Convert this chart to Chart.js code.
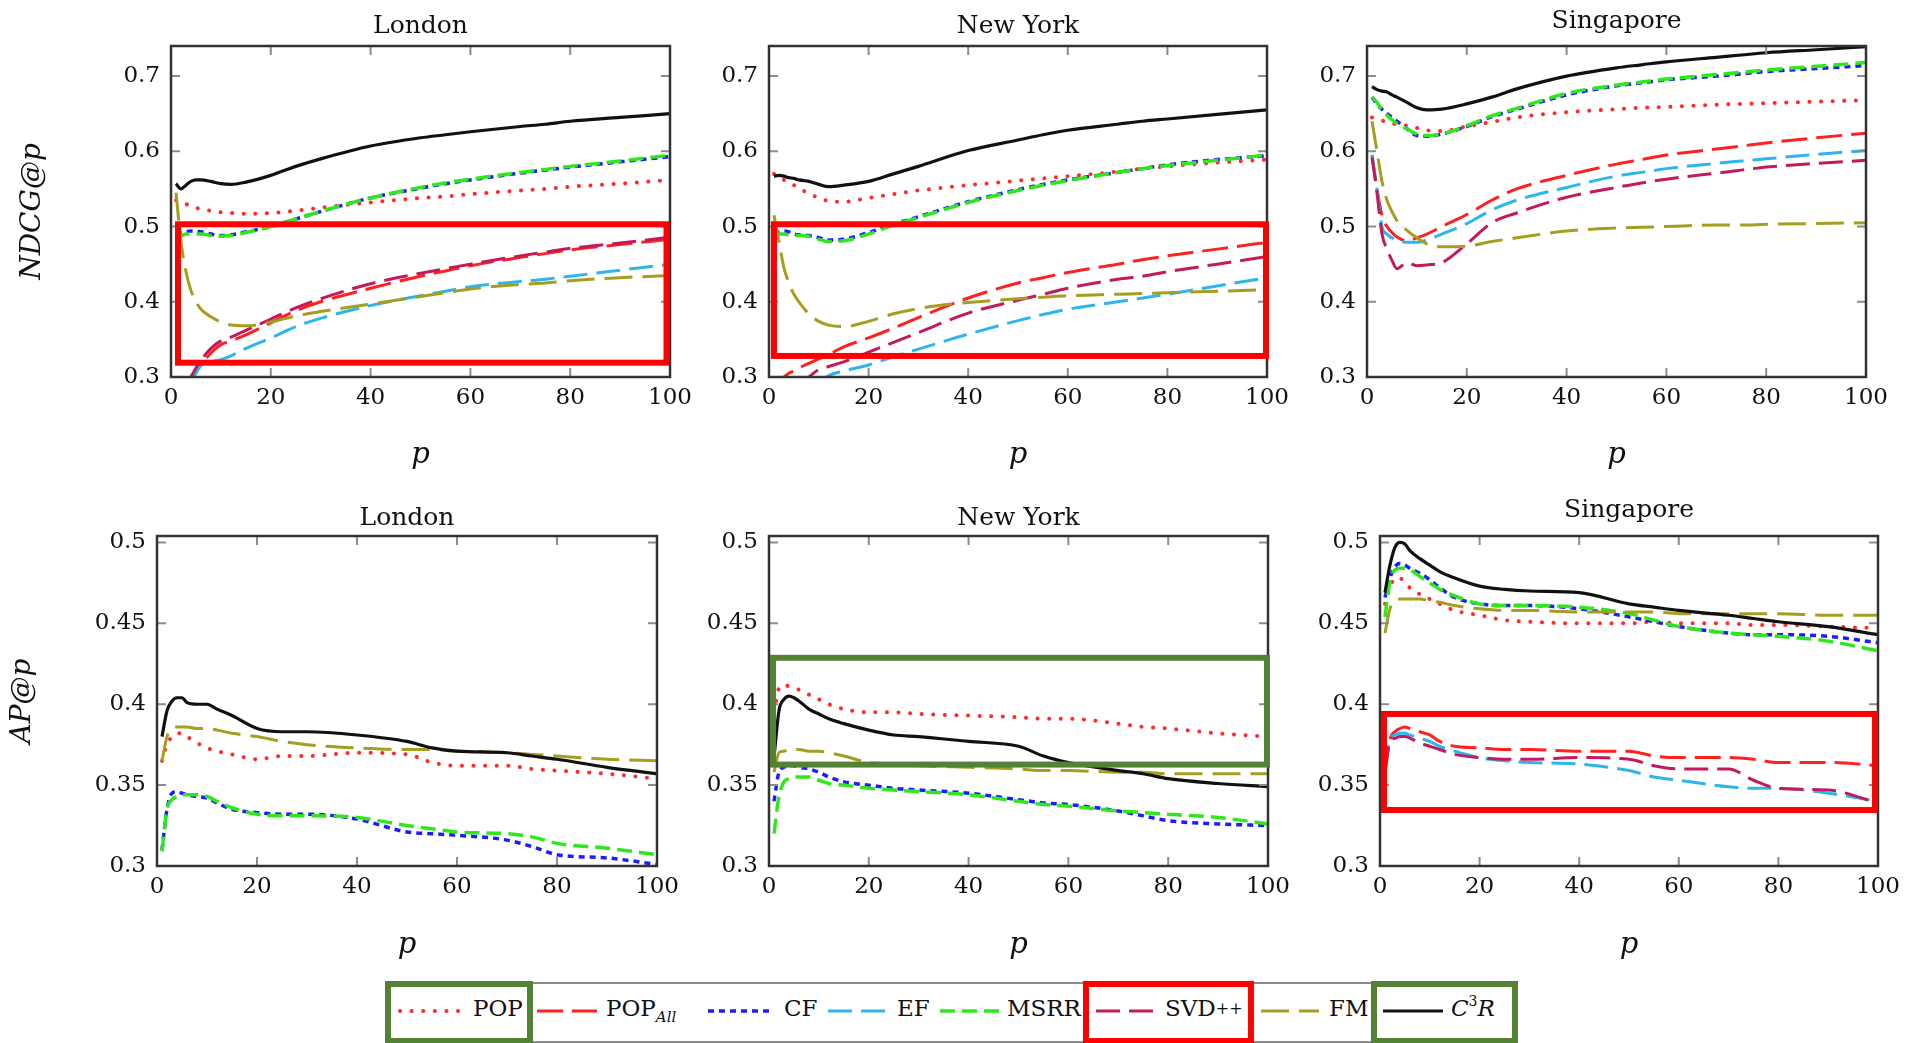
<!DOCTYPE html>
<html>
<head>
<meta charset="utf-8">
<title>NDCG@p and AP@p</title>
<script src="https://cdn.jsdelivr.net/npm/chart.js@4.4.1/dist/chart.umd.min.js"></script>
<style>
html,body{margin:0;padding:0;background:#fff;}
body{width:1914px;height:1043px;position:relative;overflow:hidden;font-family:"DejaVu Serif",serif;color:#111;}
canvas.panel{position:absolute;}
#legend{position:absolute;left:385px;top:982px;width:1133px;height:61px;box-sizing:border-box;border:2px solid #8a8a8a;background:#fff;}
#legend .sample{position:absolute;top:22px;}
#legend .lbl{position:absolute;top:10px;line-height:28px;font-size:23px;white-space:nowrap;color:#111;}
#legend .lbl sub{font-size:15px;font-style:italic;vertical-align:-6px;line-height:0;}
#legend .lbl sup{font-size:14px;vertical-align:10px;line-height:0;}
#legend .lbl .pp{font-size:16px;vertical-align:2px;}
#legend .hl{position:absolute;top:-3px;height:63px;box-sizing:border-box;border:6px solid;}
</style>
</head>
<body>
<canvas id="c0" class="panel" width="700" height="480" style="left:0px;top:0px"></canvas>
<canvas id="c1" class="panel" width="600" height="480" style="left:700px;top:0px"></canvas>
<canvas id="c2" class="panel" width="614" height="480" style="left:1300px;top:0px"></canvas>
<canvas id="c3" class="panel" width="700" height="480" style="left:0px;top:490px"></canvas>
<canvas id="c4" class="panel" width="600" height="480" style="left:700px;top:490px"></canvas>
<canvas id="c5" class="panel" width="614" height="480" style="left:1300px;top:490px"></canvas>
<div id="legend"></div>
<script>
// ---------------- data ----------------
const P = [1,2,3,4,5,6,8,10,12,15,20,25,30,40,50,55,60,70,75,80,90,100];
const X_TICKS = [0,20,40,60,80,100];
const NDCG_TICKS = [0.3,0.4,0.5,0.6,0.7];
const AP_TICKS = [0.3,0.35,0.4,0.45,0.5];
const METHODS = ['POP','POP_All','CF','EF','MSRR','SVD++','FM','C3R'];
const CITIES = ['London','New York','Singapore'];

// NDCG@p — London
const NDCG_LON_POP    = [0.535,0.532,0.53,0.527,0.525,0.523,0.521,0.519,0.518,0.517,0.518,0.521,0.525,0.532,0.538,0.54,0.543,0.548,0.55,0.553,0.557,0.562];
const NDCG_LON_POPALL = [null,null,0.288,0.3,0.308,0.316,0.332,0.343,0.348,0.356,0.372,0.388,0.4,0.418,0.434,0.441,0.448,0.459,0.464,0.469,0.476,0.483];
const NDCG_LON_CF     = [0.49,0.492,0.493,0.494,0.494,0.493,0.49,0.488,0.489,0.493,0.5,0.51,0.52,0.538,0.551,0.557,0.562,0.571,0.575,0.579,0.586,0.593];
const NDCG_LON_EF     = [null,null,null,0.292,0.305,0.315,0.32,0.323,0.328,0.338,0.352,0.367,0.378,0.395,0.408,0.414,0.42,0.427,0.43,0.434,0.442,0.45];
const NDCG_LON_MSRR   = [0.483,0.487,0.49,0.49,0.49,0.49,0.488,0.487,0.488,0.492,0.5,0.51,0.52,0.538,0.552,0.558,0.563,0.572,0.576,0.58,0.587,0.595];
const NDCG_LON_SVD    = [null,null,0.29,0.3,0.312,0.322,0.338,0.348,0.353,0.362,0.377,0.392,0.404,0.424,0.438,0.444,0.45,0.461,0.466,0.471,0.478,0.486];
const NDCG_LON_FM     = [0.545,0.48,0.44,0.415,0.4,0.39,0.38,0.373,0.369,0.368,0.373,0.381,0.387,0.397,0.407,0.412,0.417,0.423,0.425,0.428,0.432,0.435];
const NDCG_LON_C3R    = [0.557,0.55,0.555,0.56,0.562,0.562,0.56,0.557,0.556,0.559,0.568,0.58,0.59,0.607,0.618,0.622,0.626,0.633,0.636,0.64,0.645,0.65];

// NDCG@p — New York
const NDCG_NY_POP    = [0.57,0.566,0.562,0.558,0.555,0.551,0.544,0.538,0.534,0.533,0.538,0.543,0.548,0.555,0.561,0.564,0.567,0.573,0.577,0.58,0.585,0.589];
const NDCG_NY_POPALL = [0.285,0.293,0.3,0.305,0.308,0.312,0.318,0.324,0.33,0.34,0.352,0.365,0.379,0.405,0.425,0.432,0.439,0.45,0.456,0.461,0.47,0.479];
const NDCG_NY_CF     = [0.49,0.493,0.494,0.493,0.49,0.489,0.488,0.485,0.482,0.483,0.492,0.503,0.513,0.533,0.549,0.556,0.562,0.572,0.577,0.582,0.589,0.594];
const NDCG_NY_EF     = [null,null,null,null,null,null,null,0.293,0.302,0.308,0.316,0.327,0.337,0.357,0.375,0.383,0.39,0.4,0.405,0.41,0.421,0.432];
const NDCG_NY_MSRR   = [0.488,0.49,0.49,0.489,0.488,0.488,0.487,0.483,0.48,0.481,0.49,0.502,0.512,0.532,0.548,0.555,0.561,0.572,0.577,0.581,0.588,0.595];
const NDCG_NY_SVD    = [null,null,null,null,null,0.29,0.3,0.31,0.314,0.32,0.333,0.346,0.359,0.385,0.402,0.41,0.418,0.43,0.434,0.44,0.45,0.46];
const NDCG_NY_FM     = [0.515,0.48,0.445,0.425,0.41,0.4,0.384,0.374,0.369,0.367,0.374,0.384,0.391,0.399,0.404,0.406,0.408,0.41,0.411,0.412,0.414,0.416];
const NDCG_NY_C3R    = [0.567,0.568,0.567,0.565,0.564,0.562,0.56,0.556,0.553,0.555,0.56,0.57,0.58,0.601,0.615,0.622,0.628,0.636,0.64,0.643,0.649,0.655];

// NDCG@p — Singapore
const NDCG_SG_POP    = [0.645,0.643,0.641,0.639,0.637,0.636,0.634,0.631,0.628,0.627,0.633,0.639,0.645,0.652,0.656,0.658,0.659,0.662,0.663,0.664,0.666,0.668];
const NDCG_SG_POPALL = [0.595,0.55,0.515,0.5,0.492,0.486,0.481,0.485,0.49,0.5,0.516,0.535,0.55,0.568,0.583,0.589,0.595,0.603,0.607,0.611,0.618,0.624];
const NDCG_SG_CF     = [0.672,0.663,0.656,0.65,0.645,0.64,0.63,0.621,0.62,0.623,0.633,0.646,0.656,0.675,0.687,0.691,0.695,0.7,0.703,0.706,0.71,0.714];
const NDCG_SG_EF     = [0.595,0.55,0.5,0.49,0.485,0.482,0.479,0.479,0.482,0.49,0.504,0.522,0.535,0.552,0.567,0.572,0.577,0.584,0.587,0.59,0.596,0.601];
const NDCG_SG_MSRR   = [0.672,0.665,0.655,0.648,0.642,0.637,0.63,0.623,0.621,0.623,0.634,0.647,0.657,0.677,0.688,0.692,0.696,0.702,0.705,0.708,0.713,0.718];
const NDCG_SG_SVD    = [0.592,0.545,0.49,0.47,0.455,0.444,0.452,0.448,0.449,0.452,0.477,0.505,0.518,0.539,0.552,0.558,0.563,0.571,0.575,0.579,0.584,0.588];
const NDCG_SG_FM     = [0.64,0.6,0.56,0.535,0.52,0.508,0.495,0.485,0.477,0.473,0.474,0.48,0.485,0.494,0.498,0.499,0.5,0.502,0.502,0.503,0.504,0.505];
const NDCG_SG_C3R    = [0.686,0.682,0.68,0.679,0.675,0.672,0.665,0.658,0.655,0.656,0.663,0.672,0.683,0.7,0.711,0.715,0.719,0.725,0.728,0.731,0.735,0.739];

// AP@p — London
const AP_LON_POP    = [0.365,0.375,0.38,0.382,0.382,0.38,0.376,0.373,0.371,0.369,0.366,0.368,0.368,0.37,0.369,0.364,0.362,0.362,0.36,0.359,0.357,0.354];
const AP_LON_POPALL = [];
const AP_LON_CF     = [0.31,0.335,0.345,0.346,0.345,0.344,0.343,0.342,0.339,0.335,0.333,0.332,0.332,0.329,0.321,0.32,0.319,0.316,0.312,0.307,0.305,0.301];
const AP_LON_EF     = [];
const AP_LON_MSRR   = [0.309,0.335,0.341,0.343,0.344,0.344,0.344,0.343,0.34,0.336,0.332,0.331,0.331,0.33,0.325,0.323,0.321,0.32,0.318,0.314,0.311,0.307];
const AP_LON_SVD    = [];
const AP_LON_FM     = [0.365,0.38,0.385,0.386,0.386,0.386,0.385,0.385,0.384,0.382,0.38,0.377,0.375,0.373,0.372,0.372,0.371,0.37,0.369,0.368,0.366,0.365];
const AP_LON_C3R    = [0.38,0.396,0.402,0.404,0.404,0.401,0.4,0.4,0.397,0.393,0.385,0.383,0.383,0.381,0.377,0.373,0.371,0.37,0.368,0.366,0.361,0.357];

// AP@p — New York
const AP_NY_POP    = [0.395,0.41,0.412,0.411,0.41,0.409,0.406,0.403,0.4,0.397,0.395,0.395,0.394,0.393,0.392,0.391,0.391,0.388,0.386,0.385,0.382,0.38];
const AP_NY_POPALL = [];
const AP_NY_CF     = [0.34,0.358,0.361,0.362,0.362,0.361,0.36,0.358,0.355,0.352,0.35,0.348,0.347,0.345,0.341,0.339,0.338,0.334,0.331,0.328,0.326,0.325];
const AP_NY_EF     = [];
const AP_NY_MSRR   = [0.32,0.343,0.352,0.354,0.355,0.355,0.355,0.353,0.351,0.35,0.348,0.347,0.346,0.344,0.34,0.338,0.337,0.334,0.333,0.332,0.33,0.326];
const AP_NY_SVD    = [];
const AP_NY_FM     = [0.358,0.37,0.371,0.372,0.372,0.372,0.371,0.371,0.37,0.368,0.364,0.363,0.362,0.361,0.36,0.359,0.359,0.358,0.358,0.357,0.357,0.357];
const AP_NY_C3R    = [0.367,0.396,0.403,0.405,0.404,0.402,0.397,0.394,0.391,0.388,0.384,0.381,0.38,0.377,0.374,0.368,0.364,0.359,0.357,0.354,0.351,0.349];

// AP@p — Singapore
const AP_SG_POP    = [0.462,0.472,0.478,0.478,0.475,0.472,0.468,0.465,0.462,0.458,0.455,0.452,0.451,0.45,0.45,0.451,0.45,0.45,0.449,0.449,0.448,0.447];
const AP_SG_POPALL = [0.357,0.378,0.383,0.385,0.386,0.385,0.383,0.381,0.377,0.374,0.373,0.372,0.372,0.371,0.371,0.368,0.367,0.367,0.366,0.364,0.364,0.362];
const AP_SG_CF     = [0.466,0.478,0.485,0.487,0.486,0.484,0.481,0.477,0.472,0.466,0.462,0.461,0.461,0.459,0.454,0.451,0.448,0.444,0.443,0.443,0.442,0.438];
const AP_SG_EF     = [0.36,0.378,0.381,0.382,0.382,0.381,0.379,0.377,0.374,0.371,0.367,0.365,0.364,0.363,0.359,0.355,0.353,0.349,0.348,0.348,0.345,0.34];
const AP_SG_MSRR   = [0.454,0.476,0.483,0.484,0.484,0.483,0.479,0.475,0.471,0.467,0.462,0.461,0.461,0.46,0.456,0.452,0.448,0.444,0.443,0.442,0.439,0.433];
const AP_SG_SVD    = [0.359,0.377,0.379,0.38,0.38,0.379,0.376,0.374,0.372,0.369,0.367,0.366,0.366,0.367,0.366,0.362,0.36,0.36,0.353,0.348,0.347,0.339];
const AP_SG_FM     = [0.444,0.459,0.464,0.465,0.465,0.465,0.465,0.464,0.463,0.461,0.459,0.458,0.458,0.457,0.457,0.457,0.456,0.456,0.456,0.456,0.455,0.455];
const AP_SG_C3R    = [0.469,0.486,0.497,0.5,0.499,0.495,0.49,0.486,0.482,0.478,0.473,0.471,0.47,0.469,0.462,0.46,0.458,0.455,0.453,0.451,0.448,0.443];

// highlight boxes in data units: [pFrom, pTo, valueFrom, valueTo]
const BOX_NDCG_LON = [1.4, 99.3, 0.319, 0.503];
const BOX_NDCG_NY  = [1.0, 99.8, 0.328, 0.503];
const BOX_AP_NY    = [0.8, 99.8, 0.3627, 0.4287];
const BOX_AP_SG    = [0.8, 99.4, 0.3346, 0.394];

// ---------------- styles ----------------
const FONT = '"DejaVu Serif", serif';
const RED = '#ff0000', GREEN = '#548235';
const STYLE = {
  'POP':     {color:'#ff2b2b', dash:[0.1,11.5], width:4,   cap:'round'},
  'POP_All': {color:'#ff2020', dash:[26,9],     width:3,   cap:'butt'},
  'CF':      {color:'#1c1cff', dash:[6,5],      width:3.5, cap:'butt'},
  'EF':      {color:'#2db5ee', dash:[24,9],     width:3,   cap:'butt'},
  'MSRR':    {color:'#2ee81c', dash:[15,7],     width:3.5, cap:'butt'},
  'SVD++':   {color:'#c21a5c', dash:[24,9],     width:3,   cap:'butt'},
  'FM':      {color:'#a59e1f', dash:[28,10],    width:3,   cap:'butt'},
  'C3R':     {color:'#111111', dash:[],         width:3.2, cap:'butt'}
};

const NDCG_SERIES = [
  [NDCG_LON_POP,NDCG_LON_POPALL,NDCG_LON_CF,NDCG_LON_EF,NDCG_LON_MSRR,NDCG_LON_SVD,NDCG_LON_FM,NDCG_LON_C3R],
  [NDCG_NY_POP,NDCG_NY_POPALL,NDCG_NY_CF,NDCG_NY_EF,NDCG_NY_MSRR,NDCG_NY_SVD,NDCG_NY_FM,NDCG_NY_C3R],
  [NDCG_SG_POP,NDCG_SG_POPALL,NDCG_SG_CF,NDCG_SG_EF,NDCG_SG_MSRR,NDCG_SG_SVD,NDCG_SG_FM,NDCG_SG_C3R]
];
const AP_SERIES = [
  [AP_LON_POP,AP_LON_POPALL,AP_LON_CF,AP_LON_EF,AP_LON_MSRR,AP_LON_SVD,AP_LON_FM,AP_LON_C3R],
  [AP_NY_POP,AP_NY_POPALL,AP_NY_CF,AP_NY_EF,AP_NY_MSRR,AP_NY_SVD,AP_NY_FM,AP_NY_C3R],
  [AP_SG_POP,AP_SG_POPALL,AP_SG_CF,AP_SG_EF,AP_SG_MSRR,AP_SG_SVD,AP_SG_FM,AP_SG_C3R]
];

// layout of the six panels (pixels inside each canvas)
const PANELS = [
  {id:'c0', series:NDCG_SERIES[0], title:CITIES[0], titleBase:33, chartTop:46, yw:171, pr:30, xh:103, ymin:0.3, ymax:0.74,  yTicks:NDCG_TICKS, yTitle:'NDCG@p', yTitlePad:16, box:BOX_NDCG_LON, boxColor:RED},
  {id:'c1', series:NDCG_SERIES[1], title:CITIES[1], titleBase:33, chartTop:46, yw:69,  pr:33, xh:103, ymin:0.3, ymax:0.74,  yTicks:NDCG_TICKS, yTitle:null,     box:BOX_NDCG_NY,  boxColor:RED},
  {id:'c2', series:NDCG_SERIES[2], title:CITIES[2], titleBase:28, chartTop:46, yw:67,  pr:48, xh:103, ymin:0.3, ymax:0.74,  yTicks:NDCG_TICKS, yTitle:null,     box:null},
  {id:'c3', series:AP_SERIES[0],   title:CITIES[0], titleBase:35, chartTop:46, yw:157, pr:43, xh:104, ymin:0.3, ymax:0.504, yTicks:AP_TICKS,   yTitle:'AP@p',   yTitlePad:6, box:null},
  {id:'c4', series:AP_SERIES[1],   title:CITIES[1], titleBase:35, chartTop:46, yw:69,  pr:32, xh:104, ymin:0.3, ymax:0.504, yTicks:AP_TICKS,   yTitle:null,     box:BOX_AP_NY,    boxColor:GREEN},
  {id:'c5', series:AP_SERIES[2],   title:CITIES[2], titleBase:27, chartTop:46, yw:80,  pr:36, xh:104, ymin:0.3, ymax:0.504, yTicks:AP_TICKS,   yTitle:null,     box:BOX_AP_SG,    boxColor:RED}
];

// panel title, frame, inner tick marks and highlight rectangle
const decor = {
  id:'decor',
  afterDraw(chart, args, o) {
    const {ctx, chartArea:a, scales:{x, y}} = chart;
    ctx.save();
    ctx.strokeStyle = '#8c8c8c'; ctx.lineWidth = 2;
    const L = 9;
    ctx.beginPath();
    X_TICKS.forEach(v => {
      if (v <= x.min || v >= x.max) return;
      const px = x.getPixelForValue(v);
      ctx.moveTo(px, a.bottom); ctx.lineTo(px, a.bottom - L);
      ctx.moveTo(px, a.top); ctx.lineTo(px, a.top + L);
    });
    o.yTicks.forEach(v => {
      if (v <= y.min || v >= y.max) return;
      const py = y.getPixelForValue(v);
      ctx.moveTo(a.left, py); ctx.lineTo(a.left + L, py);
      ctx.moveTo(a.right, py); ctx.lineTo(a.right - L, py);
    });
    ctx.stroke();
    ctx.strokeStyle = '#333'; ctx.lineWidth = 2.5;
    ctx.strokeRect(a.left, a.top, a.right - a.left, a.bottom - a.top);
    // panel title centred over the plot area
    ctx.fillStyle = '#111';
    ctx.font = '25px ' + FONT;
    ctx.textAlign = 'center'; ctx.textBaseline = 'alphabetic';
    ctx.fillText(o.title, (a.left + a.right) / 2, o.titleBase);
    if (o.box) {
      const b = o.box;
      const x0 = x.getPixelForValue(b[0]), x1 = x.getPixelForValue(b[1]);
      const y0 = y.getPixelForValue(b[3]), y1 = y.getPixelForValue(b[2]);
      ctx.strokeStyle = o.boxColor; ctx.lineWidth = 6;
      ctx.strokeRect(x0, y0, x1 - x0, y1 - y0);
    }
    ctx.restore();
  }
};

PANELS.forEach(pn => {
  const datasets = METHODS.map((m, i) => {
    const st = STYLE[m];
    const vals = pn.series[i];
    const pts = [];
    vals.forEach((v, k) => { if (v !== null && v !== undefined) pts.push({x:P[k], y:v}); });
    return {
      label:m, data:pts, order:METHODS.length - 1 - i,
      borderColor:st.color, backgroundColor:st.color, borderWidth:st.width,
      borderDash:st.dash, borderCapStyle:st.cap, borderJoinStyle:'round',
      pointRadius:0, fill:false, cubicInterpolationMode:'monotone'
    };
  });
  new Chart(document.getElementById(pn.id), {
    type:'line',
    data:{datasets},
    plugins:[decor],
    options:{
      responsive:false, animation:false, events:[],
      layout:{padding:{top:pn.chartTop, right:pn.pr, left:0, bottom:0}},
      plugins:{
        legend:{display:false}, tooltip:{enabled:false}, title:{display:false},
        decor:{yTicks:pn.yTicks, box:pn.box, boxColor:pn.boxColor, title:pn.title, titleBase:pn.titleBase}
      },
      scales:{
        x:{type:'linear', min:0, max:100,
           afterBuildTicks:s => { s.ticks = X_TICKS.map(v => ({value:v})); },
           afterFit:s => { s.height = pn.xh; },
           grid:{display:false, drawTicks:false}, border:{display:false},
           ticks:{padding:7, color:'#111', font:{family:FONT, size:23}, maxRotation:0, autoSkip:false,
                  callback:v => String(v)},
           title:{display:true, text:'p', color:'#111', font:{family:FONT, size:29, style:'italic'},
                  padding:{top:0, bottom:7}}},
        y:{type:'linear', min:pn.ymin, max:pn.ymax,
           afterBuildTicks:s => { s.ticks = pn.yTicks.map(v => ({value:v})); },
           afterFit:s => { s.width = pn.yw; },
           grid:{display:false, drawTicks:false}, border:{display:false},
           ticks:{padding:11, color:'#111', font:{family:FONT, size:23}, autoSkip:false,
                  callback:v => String(+v.toFixed(2))},
           title:{display:!!pn.yTitle, text:pn.yTitle || '', color:'#111', font:{family:FONT, size:28, style:'italic'},
                  padding:{top:pn.yTitlePad || 0, bottom:0}}}
      }
    }
  });
});

// ---------------- legend ----------------
const LEGEND_TEXT = {
  'POP':'POP', 'POP_All':'POP<sub>All</sub>', 'CF':'CF', 'EF':'EF', 'MSRR':'MSRR',
  'SVD++':'SVD<span class="pp">++</span>', 'FM':'FM', 'C3R':'<i>C</i><sup>3</sup><i>R</i>'
};
const LEGEND_POS = { // [sampleLeft, sampleWidth, textLeft]
  'POP':[11,68,86], 'POP_All':[148,64,219], 'CF':[319,70,397], 'EF':[439,64,510],
  'MSRR':[551,64,620], 'SVD++':[707,64,778], 'FM':[872,62,942], 'C3R':[994,64,1064]
};
const LEGEND_HL = [[0,148,GREEN],[698,171,RED],[986,147,GREEN]];
const leg = document.getElementById('legend');
const NS = 'http://www.w3.org/2000/svg';
METHODS.forEach(m => {
  const st = STYLE[m], pos = LEGEND_POS[m];
  const svg = document.createElementNS(NS, 'svg');
  svg.setAttribute('width', pos[1]); svg.setAttribute('height', 10);
  svg.setAttribute('class', 'sample');
  svg.style.left = pos[0] + 'px';
  const ln = document.createElementNS(NS, 'line');
  ln.setAttribute('x1', 2); ln.setAttribute('x2', pos[1] - 2);
  ln.setAttribute('y1', 5); ln.setAttribute('y2', 5);
  ln.setAttribute('stroke', st.color); ln.setAttribute('stroke-width', st.width);
  if (st.dash.length) ln.setAttribute('stroke-dasharray', st.dash.join(' '));
  ln.setAttribute('stroke-linecap', st.cap);
  svg.appendChild(ln);
  leg.appendChild(svg);
  const sp = document.createElement('span');
  sp.className = 'lbl'; sp.style.left = pos[2] + 'px';
  sp.innerHTML = LEGEND_TEXT[m];
  leg.appendChild(sp);
});
LEGEND_HL.forEach(h => {
  const d = document.createElement('div');
  d.className = 'hl'; d.style.left = (h[0] - 2) + 'px'; d.style.width = h[1] + 'px';
  d.style.borderColor = h[2];
  leg.appendChild(d);
});
</script>
</body>
</html>
